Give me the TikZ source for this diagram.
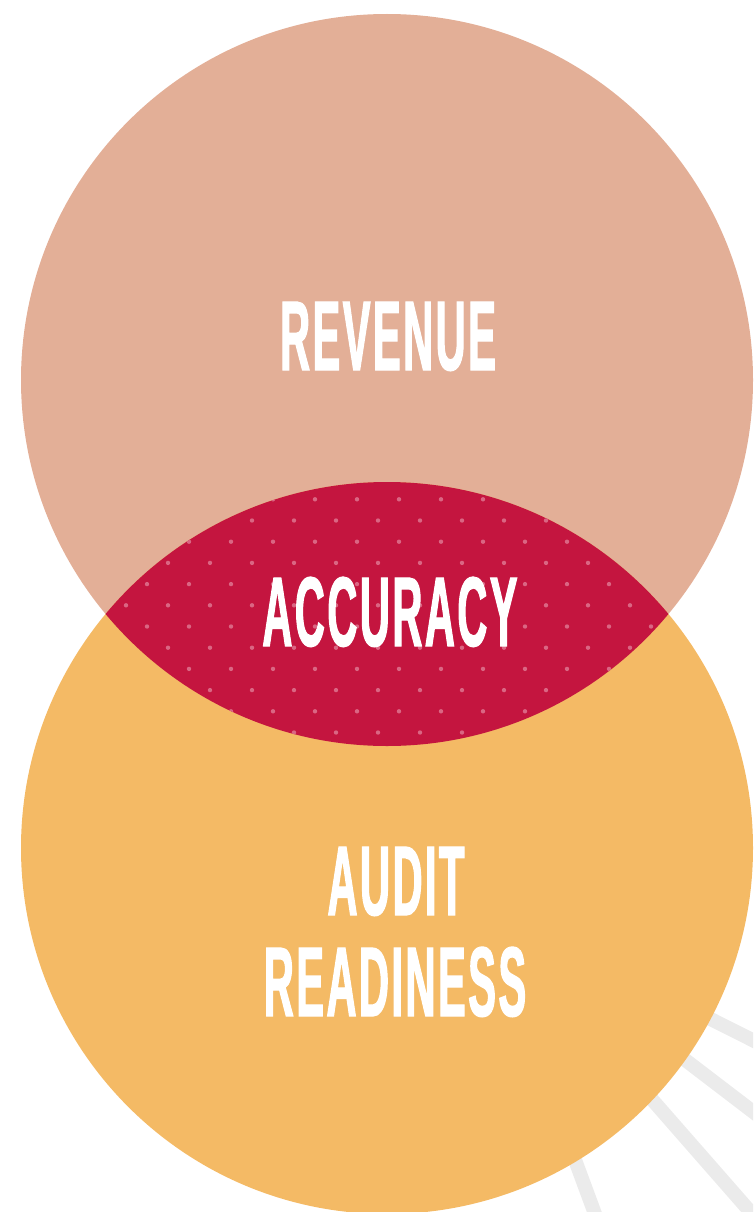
\documentclass[tikz,border=0pt]{standalone}
\usepackage{fontspec}
\newfontfamily\cond{Liberation Sans}[FakeStretch=0.42,FakeBold=1.1,LetterSpace=2.5]
\definecolor{revenue}{HTML}{E3AF97}
\definecolor{audit}{HTML}{F4BA65}
\definecolor{lens}{HTML}{C4153F}
\definecolor{ray}{HTML}{EBEBEB}
\definecolor{dotc}{HTML}{DA6683}
\tikzset{
  label text/.style={text=white, font=\cond\bfseries\fontsize{99}{99}\selectfont, inner sep=0pt, anchor=base, align=center},
  raybar/.style={draw=ray, line width=14pt},
}
\begin{document}
\begin{tikzpicture}[x=1pt,y=-1pt]
\useasboundingbox (0,0) rectangle (753,1212);
\begin{scope}
\clip (0,0) rectangle (753,1212);
\coordinate (rc) at (480,903);
\foreach \a in {26.7,37.4,48.8,69.7}{
  \draw[raybar] (rc) -- ++(\a:700);
}
\end{scope}
\fill[revenue] (387,380) circle (366);
\fill[audit] (387,848) circle (366);
\begin{scope}
\clip (387,380) circle (366);
\fill[lens] (387,848) circle (366);
\clip (387,848) circle (366);
\foreach \k in {-1,...,12}{
  \pgfmathsetmacro{\yy}{499.3+21.2*\k}
  \pgfmathsetmacro{\xo}{mod(\k+2,2)==0 ? 21 : 0}
  \foreach \i in {0,...,18}{
    \fill[dotc] (\xo+42*\i,\yy) circle (2.2);
  }
}
\end{scope}
\node[label text] (rev) at (388,370) {REVENUE};
\node[label text] (acc) at (390,646) {ACCURACY};
\node[label text] (aud) at (396,915) {AUDIT};
\node[label text] (rea) at (395,1016) {READINESS};
\end{tikzpicture}
\end{document}
